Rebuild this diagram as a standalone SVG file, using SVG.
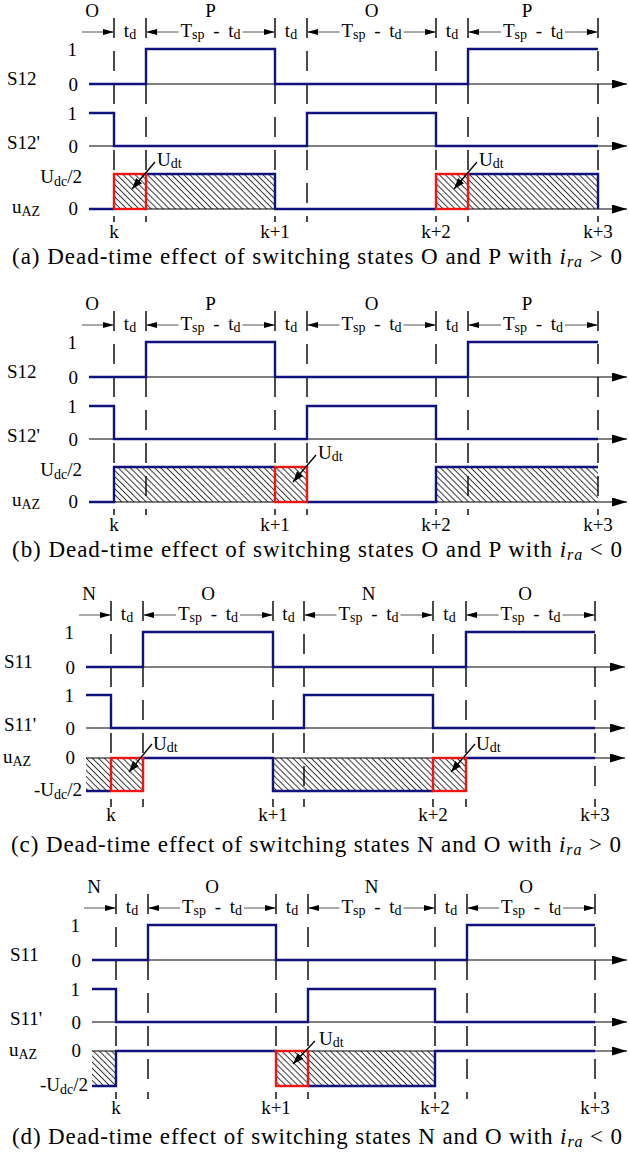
<svg xmlns="http://www.w3.org/2000/svg" width="629" height="1156" viewBox="0 0 629 1156">
<defs>
<style>
.t{font-family:"Liberation Serif","Times New Roman",serif;font-size:19px;fill:#000}
.m{text-anchor:middle}
.e{text-anchor:end}
.s{font-size:14px}
.cap{font-family:"Liberation Serif","Times New Roman",serif;font-size:23px;fill:#000}
.ax{stroke:#000;stroke-width:1.2;fill:none;marker-end:url(#axh)}
.sig{stroke:#12127e;stroke-width:2.4;fill:none}
.rb{stroke:#f01515;stroke-width:2.4;fill:none}
.dl{stroke:#000;stroke-width:1.4;stroke-dasharray:20 13;fill:none}
.dim{stroke:#555;stroke-width:1;marker-end:url(#dh)}
.ua{stroke:#000;stroke-width:1.3;marker-end:url(#uh)}
.ht{fill:url(#h);stroke:none}
</style>
<pattern id="h" patternUnits="userSpaceOnUse" width="4.3" height="10" patternTransform="rotate(-45)">
<line x1="2.15" y1="0" x2="2.15" y2="10" stroke="#333" stroke-width="1"/>
</pattern>
<marker id="axh" viewBox="0 0 15 9" refX="15" refY="4.5" markerWidth="15" markerHeight="9" markerUnits="userSpaceOnUse" orient="auto"><path d="M0,0L15,4.5L0,9z" fill="#000"/></marker>
<marker id="dh" viewBox="0 0 11 6" refX="11" refY="3" markerWidth="11" markerHeight="6" markerUnits="userSpaceOnUse" orient="auto"><path d="M0,0L11,3L0,6z" fill="#000"/></marker>
<marker id="uh" viewBox="0 0 11 8" refX="11" refY="4" markerWidth="11" markerHeight="8" markerUnits="userSpaceOnUse" orient="auto"><path d="M0,0L11,4L0,8z" fill="#000"/></marker>
</defs>
<rect width="629" height="1156" fill="#fff"/>

<!-- Panel (a) -->
<g id="panel-a">
<rect class="ht" x="114" y="174" width="161" height="35"/>
<rect class="ht" x="436" y="174" width="162" height="35"/>
<line class="ax" x1="89" y1="84" x2="627" y2="84"/>
<line class="ax" x1="89" y1="146" x2="627" y2="146"/>
<line class="ax" x1="89" y1="209" x2="627" y2="209"/>
<path class="dl" d="M114,18V222M146,18V222M275,18V222M307,18V222M436,18V222M468,18V222M598,18V222"/>
<path class="sig" d="M89,84H146V49H275V84H468V49H598"/>
<path class="sig" d="M89,113H114V146H307V113H436V146H598"/>
<path class="sig" d="M89,209H114M146,174H275V209H436M468,174H598V209"/>
<rect class="rb" x="114" y="174" width="32" height="35"/>
<rect class="rb" x="436" y="174" width="32" height="35"/>
<g class="t">
<text class="m" x="92" y="17">O</text>
<text class="m" x="210.5" y="17">P</text>
<text class="m" x="371.5" y="17">O</text>
<text class="m" x="527" y="17">P</text>
<text class="m" x="130" y="37">t<tspan class="s" dy="2">d</tspan></text>
<text class="m" x="291" y="37">t<tspan class="s" dy="2">d</tspan></text>
<text class="m" x="452" y="37">t<tspan class="s" dy="2">d</tspan></text>
<text class="m" x="210.5" y="37" word-spacing="4">T<tspan class="s" dy="2">sp</tspan><tspan dy="-2"> - t</tspan><tspan class="s" dy="2">d</tspan></text>
<text class="m" x="371.5" y="37" word-spacing="4">T<tspan class="s" dy="2">sp</tspan><tspan dy="-2"> - t</tspan><tspan class="s" dy="2">d</tspan></text>
<text class="m" x="533" y="37" word-spacing="4">T<tspan class="s" dy="2">sp</tspan><tspan dy="-2"> - t</tspan><tspan class="s" dy="2">d</tspan></text>
<text x="7" y="85">S12</text>
<text class="e" x="77" y="56">1</text>
<text class="e" x="78" y="91">0</text>
<text x="7" y="149">S12'</text>
<text class="e" x="77" y="120">1</text>
<text class="e" x="78" y="153">0</text>
<text class="e" x="82" y="183">U<tspan class="s" dy="3">dc</tspan><tspan dy="-3">/2</tspan></text>
<text x="12" y="213">u<tspan class="s" dy="3">AZ</tspan></text>
<text class="e" x="78" y="215">0</text>
<text class="m" x="114" y="238">k</text>
<text class="m" x="275" y="238">k+1</text>
<text class="m" x="436" y="238">k+2</text>
<text class="m" x="598" y="238">k+3</text>
<text x="157" y="166">U<tspan class="s" dy="2">dt</tspan></text>
<text x="479" y="166">U<tspan class="s" dy="2">dt</tspan></text>
</g>
<g class="arrows">
<line class="dim" x1="82" y1="32" x2="114" y2="32"/>
<line class="dim" x1="178.5" y1="32" x2="146" y2="32"/>
<line class="dim" x1="242.5" y1="32" x2="275" y2="32"/>
<line class="dim" x1="339.5" y1="32" x2="307" y2="32"/>
<line class="dim" x1="403.5" y1="32" x2="436" y2="32"/>
<line class="dim" x1="501" y1="32" x2="468" y2="32"/>
<line class="dim" x1="565" y1="32" x2="598" y2="32"/>
<line class="ua" x1="155" y1="162" x2="132" y2="189"/>
<line class="ua" x1="477" y1="162" x2="454" y2="189"/>
</g>
<text class="cap" x="12" y="264" textLength="610" lengthAdjust="spacing">(a) Dead-time effect of switching states O and P with <tspan font-style="italic">i</tspan><tspan font-style="italic" font-size="16" dy="3">ra</tspan><tspan dy="-3"> &gt; 0</tspan></text>
</g>

<!-- Panel (b) -->
<g id="panel-b">
<rect class="ht" x="114" y="467" width="193" height="35"/>
<rect class="ht" x="436" y="467" width="162" height="35"/>
<line class="ax" x1="89" y1="377" x2="627" y2="377"/>
<line class="ax" x1="89" y1="439" x2="627" y2="439"/>
<line class="ax" x1="89" y1="502" x2="627" y2="502"/>
<path class="dl" d="M114,311V515M146,311V515M275,311V515M307,311V515M436,311V515M468,311V515M598,311V515"/>
<path class="sig" d="M89,377H146V342H275V377H468V342H598"/>
<path class="sig" d="M89,406H114V439H307V406H436V439H598"/>
<path class="sig" d="M89,502H114V467H275M307,502H436V467H598"/>
<rect class="rb" x="275" y="467" width="32" height="35"/>
<g class="t">
<text class="m" x="92" y="310">O</text>
<text class="m" x="210.5" y="310">P</text>
<text class="m" x="371.5" y="310">O</text>
<text class="m" x="527" y="310">P</text>
<text class="m" x="130" y="330">t<tspan class="s" dy="2">d</tspan></text>
<text class="m" x="291" y="330">t<tspan class="s" dy="2">d</tspan></text>
<text class="m" x="452" y="330">t<tspan class="s" dy="2">d</tspan></text>
<text class="m" x="210.5" y="330" word-spacing="4">T<tspan class="s" dy="2">sp</tspan><tspan dy="-2"> - t</tspan><tspan class="s" dy="2">d</tspan></text>
<text class="m" x="371.5" y="330" word-spacing="4">T<tspan class="s" dy="2">sp</tspan><tspan dy="-2"> - t</tspan><tspan class="s" dy="2">d</tspan></text>
<text class="m" x="533" y="330" word-spacing="4">T<tspan class="s" dy="2">sp</tspan><tspan dy="-2"> - t</tspan><tspan class="s" dy="2">d</tspan></text>
<text x="7" y="378">S12</text>
<text class="e" x="77" y="349">1</text>
<text class="e" x="78" y="384">0</text>
<text x="7" y="442">S12'</text>
<text class="e" x="77" y="413">1</text>
<text class="e" x="78" y="446">0</text>
<text class="e" x="82" y="476">U<tspan class="s" dy="3">dc</tspan><tspan dy="-3">/2</tspan></text>
<text x="12" y="506">u<tspan class="s" dy="3">AZ</tspan></text>
<text class="e" x="78" y="508">0</text>
<text class="m" x="114" y="531">k</text>
<text class="m" x="275" y="531">k+1</text>
<text class="m" x="436" y="531">k+2</text>
<text class="m" x="598" y="531">k+3</text>
<text x="318" y="459">U<tspan class="s" dy="2">dt</tspan></text>
</g>
<g class="arrows">
<line class="dim" x1="82" y1="325" x2="114" y2="325"/>
<line class="dim" x1="178.5" y1="325" x2="146" y2="325"/>
<line class="dim" x1="242.5" y1="325" x2="275" y2="325"/>
<line class="dim" x1="339.5" y1="325" x2="307" y2="325"/>
<line class="dim" x1="403.5" y1="325" x2="436" y2="325"/>
<line class="dim" x1="501" y1="325" x2="468" y2="325"/>
<line class="dim" x1="565" y1="325" x2="598" y2="325"/>
<line class="ua" x1="316" y1="455" x2="293" y2="482"/>
</g>
<text class="cap" x="12" y="557" textLength="610" lengthAdjust="spacing">(b) Dead-time effect of switching states O and P with <tspan font-style="italic">i</tspan><tspan font-style="italic" font-size="16" dy="3">ra</tspan><tspan dy="-3"> &lt; 0</tspan></text>
</g>

<!-- Panel (c) -->
<g id="panel-c">
<rect class="ht" x="86" y="758" width="57" height="33"/>
<rect class="ht" x="273" y="758" width="193" height="33"/>
<line class="ax" x1="86" y1="667" x2="625" y2="667"/>
<line class="ax" x1="86" y1="728" x2="625" y2="728"/>
<line class="ax" x1="86" y1="758" x2="625" y2="758"/>
<path class="dl" d="M111,601V807M143,601V807M273,601V807M304,601V807M433,601V807M466,601V807M595,601V807"/>
<path class="sig" d="M86,667H143V632H273V667H466V632H595"/>
<path class="sig" d="M86,695H111V728H304V695H433V728H595"/>
<path class="sig" d="M86,791H111M143,758H273V791H433M466,758H595"/>
<rect class="rb" x="111" y="758" width="32" height="33"/>
<rect class="rb" x="433" y="758" width="33" height="33"/>
<g class="t">
<text class="m" x="89" y="600">N</text>
<text class="m" x="208" y="600">O</text>
<text class="m" x="368.5" y="600">N</text>
<text class="m" x="525" y="600">O</text>
<text class="m" x="127" y="620">t<tspan class="s" dy="2">d</tspan></text>
<text class="m" x="288.5" y="620">t<tspan class="s" dy="2">d</tspan></text>
<text class="m" x="449.5" y="620">t<tspan class="s" dy="2">d</tspan></text>
<text class="m" x="208" y="620" word-spacing="4">T<tspan class="s" dy="2">sp</tspan><tspan dy="-2"> - t</tspan><tspan class="s" dy="2">d</tspan></text>
<text class="m" x="368.5" y="620" word-spacing="4">T<tspan class="s" dy="2">sp</tspan><tspan dy="-2"> - t</tspan><tspan class="s" dy="2">d</tspan></text>
<text class="m" x="530.5" y="620" word-spacing="4">T<tspan class="s" dy="2">sp</tspan><tspan dy="-2"> - t</tspan><tspan class="s" dy="2">d</tspan></text>
<text x="4" y="668">S11</text>
<text class="e" x="74" y="639">1</text>
<text class="e" x="75" y="674">0</text>
<text x="4" y="731">S11'</text>
<text class="e" x="74" y="702">1</text>
<text class="e" x="75" y="735">0</text>
<text x="3" y="763">u<tspan class="s" dy="3">AZ</tspan></text>
<text class="e" x="75" y="764">0</text>
<text class="e" x="82" y="796">-U<tspan class="s" dy="3">dc</tspan><tspan dy="-3">/2</tspan></text>
<text class="m" x="111" y="821">k</text>
<text class="m" x="273" y="821">k+1</text>
<text class="m" x="433" y="821">k+2</text>
<text class="m" x="595" y="821">k+3</text>
<text x="153" y="750">U<tspan class="s" dy="2">dt</tspan></text>
<text x="476" y="750">U<tspan class="s" dy="2">dt</tspan></text>
</g>
<g class="arrows">
<line class="dim" x1="79" y1="615" x2="111" y2="615"/>
<line class="dim" x1="176" y1="615" x2="143" y2="615"/>
<line class="dim" x1="240" y1="615" x2="273" y2="615"/>
<line class="dim" x1="336.5" y1="615" x2="304" y2="615"/>
<line class="dim" x1="400.5" y1="615" x2="433" y2="615"/>
<line class="dim" x1="498.5" y1="615" x2="466" y2="615"/>
<line class="dim" x1="562.5" y1="615" x2="595" y2="615"/>
<line class="ua" x1="152" y1="744" x2="129" y2="772"/>
<line class="ua" x1="475" y1="744" x2="451" y2="772"/>
</g>
<text class="cap" x="11" y="852" textLength="610" lengthAdjust="spacing">(c) Dead-time effect of switching states N and O with <tspan font-style="italic">i</tspan><tspan font-style="italic" font-size="16" dy="3">ra</tspan><tspan dy="-3"> &gt; 0</tspan></text>
</g>

<!-- Panel (d) -->
<g id="panel-d">
<rect class="ht" x="92" y="1051" width="24" height="35"/>
<rect class="ht" x="276" y="1051" width="159" height="35"/>
<line class="ax" x1="92" y1="960" x2="627" y2="960"/>
<line class="ax" x1="92" y1="1022" x2="627" y2="1022"/>
<line class="ax" x1="92" y1="1051" x2="627" y2="1051"/>
<path class="dl" d="M116,894V1099M148,894V1099M276,894V1099M308,894V1099M435,894V1099M467,894V1099M595,894V1099"/>
<path class="sig" d="M92,960H148V925H276V960H467V925H595"/>
<path class="sig" d="M92,989H116V1022H308V989H435V1022H595"/>
<path class="sig" d="M92,1086H116V1051H276M308,1086H435V1051H595"/>
<rect class="rb" x="276" y="1051" width="32" height="35"/>
<g class="t">
<text class="m" x="94" y="893">N</text>
<text class="m" x="212" y="893">O</text>
<text class="m" x="371.5" y="893">N</text>
<text class="m" x="526" y="893">O</text>
<text class="m" x="132" y="913">t<tspan class="s" dy="2">d</tspan></text>
<text class="m" x="292" y="913">t<tspan class="s" dy="2">d</tspan></text>
<text class="m" x="451" y="913">t<tspan class="s" dy="2">d</tspan></text>
<text class="m" x="212" y="913" word-spacing="4">T<tspan class="s" dy="2">sp</tspan><tspan dy="-2"> - t</tspan><tspan class="s" dy="2">d</tspan></text>
<text class="m" x="371.5" y="913" word-spacing="4">T<tspan class="s" dy="2">sp</tspan><tspan dy="-2"> - t</tspan><tspan class="s" dy="2">d</tspan></text>
<text class="m" x="531" y="913" word-spacing="4">T<tspan class="s" dy="2">sp</tspan><tspan dy="-2"> - t</tspan><tspan class="s" dy="2">d</tspan></text>
<text x="10" y="961">S11</text>
<text class="e" x="80" y="932">1</text>
<text class="e" x="81" y="967">0</text>
<text x="10" y="1025">S11'</text>
<text class="e" x="80" y="996">1</text>
<text class="e" x="81" y="1029">0</text>
<text x="9" y="1056">u<tspan class="s" dy="3">AZ</tspan></text>
<text class="e" x="81" y="1057">0</text>
<text class="e" x="88" y="1091">-U<tspan class="s" dy="3">dc</tspan><tspan dy="-3">/2</tspan></text>
<text class="m" x="116" y="1114">k</text>
<text class="m" x="276" y="1114">k+1</text>
<text class="m" x="435" y="1114">k+2</text>
<text class="m" x="595" y="1114">k+3</text>
<text x="319" y="1045">U<tspan class="s" dy="2">dt</tspan></text>
</g>
<g class="arrows">
<line class="dim" x1="84" y1="908" x2="116" y2="908"/>
<line class="dim" x1="180" y1="908" x2="148" y2="908"/>
<line class="dim" x1="244" y1="908" x2="276" y2="908"/>
<line class="dim" x1="339.5" y1="908" x2="308" y2="908"/>
<line class="dim" x1="403.5" y1="908" x2="435" y2="908"/>
<line class="dim" x1="499" y1="908" x2="467" y2="908"/>
<line class="dim" x1="563" y1="908" x2="595" y2="908"/>
<line class="ua" x1="315" y1="1041" x2="293" y2="1064"/>
</g>
<text class="cap" x="12" y="1144" textLength="610" lengthAdjust="spacing">(d) Dead-time effect of switching states N and O with <tspan font-style="italic">i</tspan><tspan font-style="italic" font-size="16" dy="3">ra</tspan><tspan dy="-3"> &lt; 0</tspan></text>
</g>
</svg>
